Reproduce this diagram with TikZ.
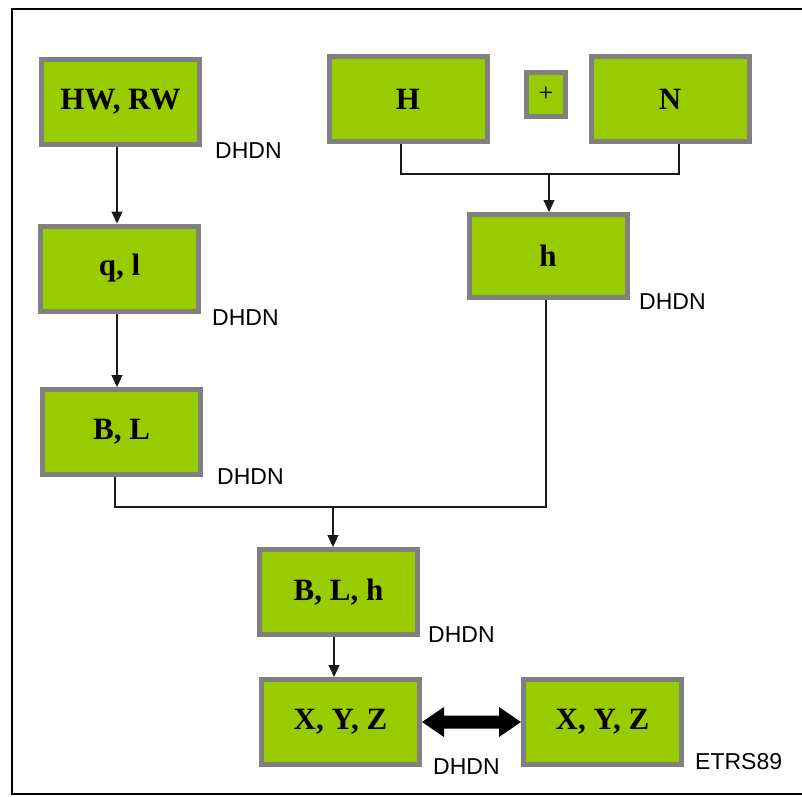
\documentclass[tikz,border=0pt]{standalone}
\usepackage{fontspec}
\setmainfont{Liberation Serif}
\newfontfamily\lblsans{Liberation Sans}
\usetikzlibrary{arrows.meta,calc}
\definecolor{boxgreen}{HTML}{99CC00}
\definecolor{boxgray}{HTML}{808080}
\definecolor{linegray}{HTML}{1A1A1A}
\tikzset{
  box/.style={draw=boxgray, line width=5pt, fill=boxgreen, minimum width=158pt,
    minimum height=85pt, inner sep=0pt, font=\fontsize{31}{36}\selectfont\bfseries},
  lbl/.style={anchor=west, inner sep=0pt, font=\lblsans\fontsize{23}{27}\selectfont},
  conn/.style={draw=linegray, line width=1.2pt},
  arr/.style={conn, -{Triangle[length=12pt,width=11pt]}},
}
\begin{document}
\begin{tikzpicture}[x=1pt,y=-1pt]
\useasboundingbox (0,0) rectangle (802,796);
\fill[white] (0,0) rectangle (802,796);
\begin{scope}
\clip (0,0) rectangle (802,796);
\draw[line width=1.6pt] (815,9) -- (12,9) -- (12,794) -- (815,794);
\end{scope}

% boxes
\node[box] (hw)  at (120.5,102) {HW, RW};
\node[box] (ql)  at (119.5,268.5) {q, l};
\node[box] (bl)  at (121.5,432) {B, L};
\node[box] (H)   at (408,99) {H};
\node[box, minimum width=39pt, minimum height=44pt, font=\fontsize{26}{30}\selectfont] (plus) at (546,94.5) {+};
\node[box] (N)   at (670,99) {N};
\node[box, minimum height=83pt] (h) at (548,256) {h};
\node[box] (blh) at (338.5,592) {B, L, h};
\node[box] (xyz1) at (340.5,722) {X, Y, Z};
\node[box] (xyz2) at (602.5,722) {X, Y, Z};

% labels
\node[lbl] (d1) at (215,151) {DHDN};
\node[lbl] (d2) at (212,318) {DHDN};
\node[lbl] (d3) at (217,477) {DHDN};
\node[lbl] (d4) at (639,302) {DHDN};
\node[lbl] (d5) at (428,635) {DHDN};
\node[lbl] (d6) at (433,767) {DHDN};
\node[lbl] (e1) at (695,762) {ETRS89};

% left column
\draw[arr] ([xshift=-3.5pt]hw.south) -- ([xshift=-3.5pt]hw.south |- ql.north);
\draw[arr] ([xshift=-2.5pt]ql.south) -- ([xshift=-2.5pt]ql.south |- bl.north);

% H + N -> h
\coordinate (j1) at (549,174);
\draw[conn] ([xshift=-7pt]H.south) |- (j1);
\draw[conn] ([xshift=9pt]N.south) |- (j1);
\draw[arr] (j1) -- (j1 |- h.north);

% B,L + h -> B,L,h
\coordinate (j2) at (333,507);
\draw[conn] ([xshift=-2pt]h.south) |- (j2);
\draw[conn] ([xshift=-6.5pt]bl.south) |- (j2);
\draw[arr] (j2) -- (j2 |- blh.north);

% B,L,h -> X,Y,Z
\draw[arr] ([xshift=-4.5pt]blh.south) -- ([xshift=-4.5pt]blh.south |- xyz1.north);

% double arrow
\fill[black] (xyz1.east) -- ($(xyz1.east)+(22,-15)$) -- ($(xyz1.east)+(22,-6.5)$)
  -- ($(xyz2.west)+(-22,-6.5)$) -- ($(xyz2.west)+(-22,-15)$) -- (xyz2.west)
  -- ($(xyz2.west)+(-22,15)$) -- ($(xyz2.west)+(-22,6.5)$)
  -- ($(xyz1.east)+(22,6.5)$) -- ($(xyz1.east)+(22,15)$) -- cycle;
\end{tikzpicture}
\end{document}
